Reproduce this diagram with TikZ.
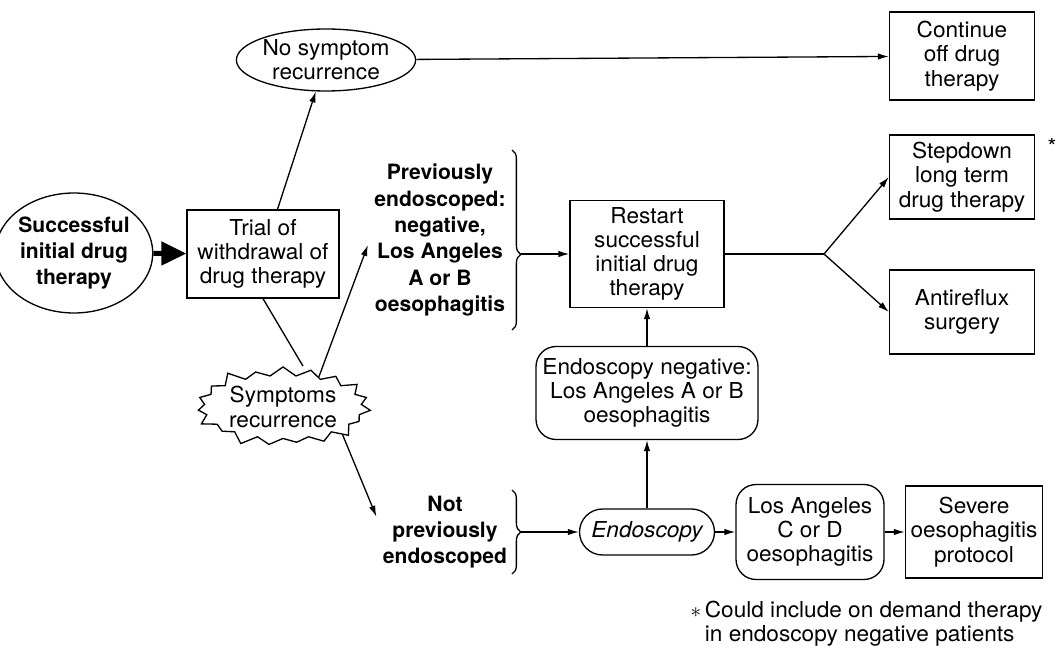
\documentclass[tikz,border=0pt]{standalone}
\usepackage{fontspec}
\setmainfont{TeX Gyre Heros}[FakeStretch=1.03]
\newfontfamily\bldfont{TeX Gyre Heros}
\usetikzlibrary{shapes.geometric,shapes.symbols,arrows.meta,decorations.pathreplacing}

\begin{document}
\begin{tikzpicture}[x=0.02cm,y=-0.02cm,line width=0.75pt,
    txt/.style={font=\fontsize{12.5}{13.8}\selectfont, align=center},
    bld/.style={font=\bldfont\fontsize{12}{15}\selectfont\bfseries, align=center},
    box/.style={txt, draw, rectangle, inner sep=0pt},
    rbox/.style={box, rounded corners=0.4cm},
    arr/.style={-{Latex[length=2.2mm,width=1.3mm]}},
    brc/.style={decorate, decoration={brace, amplitude=5pt}}]
    \useasboundingbox (0,0) rectangle (1061,648);

    \node[bld, draw, ellipse, inner sep=0pt, minimum width=2.64cm, minimum height=2.4cm] (init) at (74,253) {Successful\\initial drug\\therapy};
    \node[box, minimum width=3.04cm, minimum height=1.76cm] (trial) at (263,254) {Trial of\\withdrawal of\\drug therapy};
    \node[txt, draw, ellipse, inner sep=0pt, minimum width=3.44cm, minimum height=1.24cm] (nosym) at (326,60) {No symptom\\recurrence};
    \node[box, minimum width=2.9cm, minimum height=1.76cm] (cont) at (962,56) {Continue\\off drug\\therapy};
    \node[box, minimum width=2.9cm, minimum height=1.68cm] (step) at (962,177) {Stepdown\\long term\\drug therapy};
    \node[txt] (star) at (1052,146) {*};
    \node[box, minimum width=2.9cm, minimum height=1.68cm] (anti) at (962,312) {Antireflux\\surgery};
    \node[box, minimum width=3.08cm, minimum height=2.14cm] (restart) at (647,254) {Restart\\successful\\initial drug\\therapy};
    \node[bld] (prev) at (440,240) {Previously\\endoscoped:\\negative,\\Los Angeles\\A or B\\oesophagitis};
    \node[txt, draw, starburst, starburst points=19, starburst point height=0.24cm, inner sep=1pt] (burst) at (283,407) {Symptoms\\recurrence};
    \node[bld] (notprev) at (445,532) {Not\\previously\\endoscoped};
    \node[rbox, minimum width=2.7cm, minimum height=0.92cm, rounded corners=0.46cm, font=\fontsize{12.5}{13.8}\selectfont\itshape] (endo) at (647,532) {Endoscopy};
    \node[rbox, minimum width=4.44cm, minimum height=1.86cm] (endoneg) at (647,393) {Endoscopy negative:\\Los Angeles A or B\\oesophagitis};
    \node[rbox, minimum width=2.96cm, minimum height=1.9cm] (lacd) at (810,532) {Los Angeles\\C or D\\oesophagitis};
    \node[box, minimum width=2.74cm, minimum height=1.84cm] (severe) at (974,532) {Severe\\oesophagitis\\protocol};
    \node[txt, anchor=north west, inner sep=0pt] (note) at (690,600) {\begin{tabular}{@{}l@{\,}l@{}}$\ast$ & Could include on demand therapy\\ & in endoscopy negative patients\end{tabular}};

    \draw[brc, decoration={aspect=0.58}] (512,150) -- (512,330);
    \coordinate (tip1) at (521,254);
    \draw[brc, decoration={aspect=0.5}] (512,490) -- (512,574);
    \coordinate (tip2) at (521,532);
    \coordinate (fork) at (824,254);

    \draw[line width=2.8pt, -{Triangle[length=5mm,width=4.6mm]}] (init) -- (trial);
    \draw[arr] (trial) -- (nosym);
    \draw[arr] (nosym) -- (cont);
    \draw (trial.south) -- ([xshift=0.4cm]burst.north);
    \draw[arr] (burst.40) -- ([yshift=-0.1cm]prev.west);
    \draw[arr] (burst.-25) -- ([yshift=-0.55cm]notprev.north west);
    \draw[arr] (tip1) -- (restart.west);
    \draw[arr] (tip2) -- (endo.west);
    \draw[arr] (endo) -- (endoneg);
    \draw[arr] (endoneg) -- (restart);
    \draw[arr] (endo) -- (lacd);
    \draw[arr] (lacd) -- (severe);
    \draw (restart.east) -- (fork);
    \draw[arr] (fork) -- (step.west);
    \draw[arr] (fork) -- (anti.west);
\end{tikzpicture}
\end{document}
